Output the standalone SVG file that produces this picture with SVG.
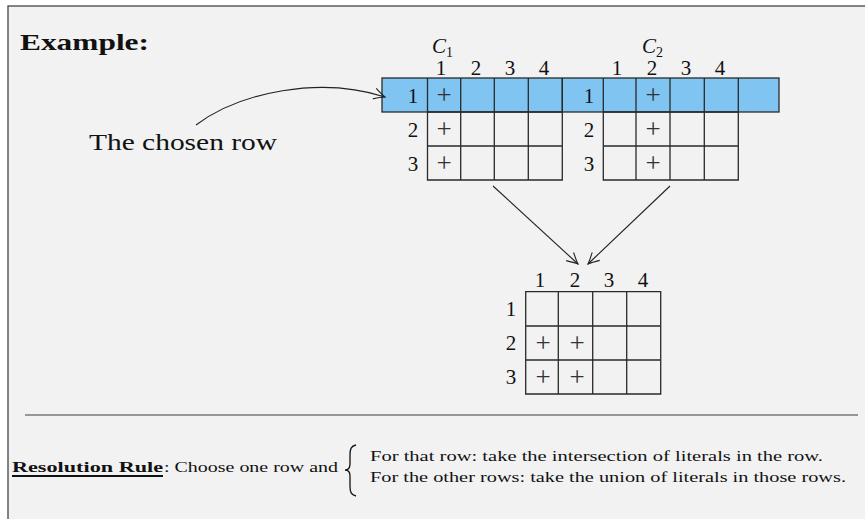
<svg xmlns="http://www.w3.org/2000/svg" width="865" height="519" viewBox="0 0 865 519">
<defs>
<style>
.t{font-family:"Liberation Serif","DejaVu Serif",serif;fill:#111}
.d{font-size:21px;text-anchor:middle}
.p{font-family:"Liberation Serif","DejaVu Serif",serif;fill:#333;font-size:27px;text-anchor:middle}
.cell{fill:none;stroke:#2a2a2a;stroke-width:1.3}
.conn{fill:none;stroke:#222;stroke-width:1.1}
</style>
<marker id="ah" viewBox="-12 -7 14 14" markerWidth="14" markerHeight="14" refX="0" refY="0" orient="auto" markerUnits="userSpaceOnUse">
<path d="M-11,-5.5 Q-4,-1.5 0,0 Q-4,1.5 -11,5.5" fill="none" stroke="#222" stroke-width="1.1"/>
</marker>
</defs>
<rect x="0" y="0" width="865" height="519" fill="#ffffff"/>
<rect x="8" y="6" width="870" height="530" fill="#f2f2f2" stroke="#444" stroke-width="1.3"/>
<text class="t" x="20" y="50" font-size="23" font-weight="bold" textLength="129" lengthAdjust="spacingAndGlyphs">Example:</text>
<text class="t" x="89" y="150" font-size="24" textLength="188" lengthAdjust="spacingAndGlyphs">The chosen row</text>

<g id="highlight-row">
<rect x="382" y="78" width="397" height="34" fill="#80c4f1" stroke="#2a2a2a" stroke-width="1.3"/>
</g>

<g id="table-c1">
<text class="t" x="432" y="53" font-size="21" font-style="italic">C</text>
<text class="t" x="446" y="57" font-size="14">1</text>
<text class="t d" x="441" y="75">1</text>
<text class="t d" x="476" y="75">2</text>
<text class="t d" x="510" y="75">3</text>
<text class="t d" x="544" y="75">4</text>
<text class="t d" x="413" y="103">1</text>
<text class="t d" x="413" y="137">2</text>
<text class="t d" x="413" y="171">3</text>
<path class="cell" d="M427.5,78V180H562.3V78M460.7,78V180M494.3,78V180M528.3,78V180M427.5,112H562.3M427.5,146H562.3"/>
<text class="p" x="444" y="104">+</text>
<text class="p" x="444" y="138">+</text>
<text class="p" x="444" y="172">+</text>
</g>

<g id="table-c2">
<text class="t" x="642" y="53" font-size="21" font-style="italic">C</text>
<text class="t" x="656" y="57" font-size="14">2</text>
<text class="t d" x="617" y="75">1</text>
<text class="t d" x="652" y="75">2</text>
<text class="t d" x="686" y="75">3</text>
<text class="t d" x="720" y="75">4</text>
<text class="t d" x="589" y="103">1</text>
<text class="t d" x="589" y="137">2</text>
<text class="t d" x="589" y="171">3</text>
<path class="cell" d="M603.3,78V180H738.3V78M636,78V180M670,78V180M704.3,78V180M603.3,112H738.3M603.3,146H738.3"/>
<path d="M562.3,78V112" class="cell"/>
<text class="p" x="653" y="104">+</text>
<text class="p" x="653" y="138">+</text>
<text class="p" x="653" y="172">+</text>
</g>

<g id="table-result">
<text class="t d" x="540" y="287">1</text>
<text class="t d" x="575" y="287">2</text>
<text class="t d" x="609" y="287">3</text>
<text class="t d" x="643" y="287">4</text>
<text class="t d" x="511" y="316">1</text>
<text class="t d" x="511" y="350">2</text>
<text class="t d" x="511" y="384">3</text>
<path class="cell" d="M525.7,291.7V394H660.7V291.7ZM558.3,291.7V394M592.7,291.7V394M626.7,291.7V394M525.7,326H660.7M525.7,360H660.7"/>
<text class="p" x="543" y="352">+</text>
<text class="p" x="577" y="352">+</text>
<text class="p" x="543" y="386">+</text>
<text class="p" x="577" y="386">+</text>
</g>

<g id="connectors">
<path class="conn" d="M196,125 C240,92 320,76 385,97" marker-end="url(#ah)"/>
<path class="conn" d="M493,186 L578,264" marker-end="url(#ah)"/>
<path class="conn" d="M670,186 L588,264" marker-end="url(#ah)"/>
</g>

<line x1="25" y1="415" x2="858" y2="415" stroke="#777" stroke-width="1.6"/>

<g id="rule">
<text class="t" x="12" y="472" font-size="15" font-weight="bold" textLength="151" lengthAdjust="spacingAndGlyphs">Resolution Rule</text>
<line x1="12" y1="476" x2="163" y2="476" stroke="#111" stroke-width="1.8"/>
<text class="t" x="164" y="472" font-size="15" textLength="174" lengthAdjust="spacingAndGlyphs">: Choose one row and</text>
<path d="M356,445 C351,446 350,449 350,455 L350,464 C350,468 348,470 345,470 C348,470 350,472 350,476 L350,486 C350,492 351,495 356,496" fill="none" stroke="#111" stroke-width="1.3"/>
<text class="t" x="370" y="461" font-size="14" textLength="453" lengthAdjust="spacingAndGlyphs">For that row: take the intersection of literals in the row.</text>
<text class="t" x="370" y="482" font-size="14" textLength="476" lengthAdjust="spacingAndGlyphs">For the other rows: take the union of literals in those rows.</text>
</g>
</svg>
